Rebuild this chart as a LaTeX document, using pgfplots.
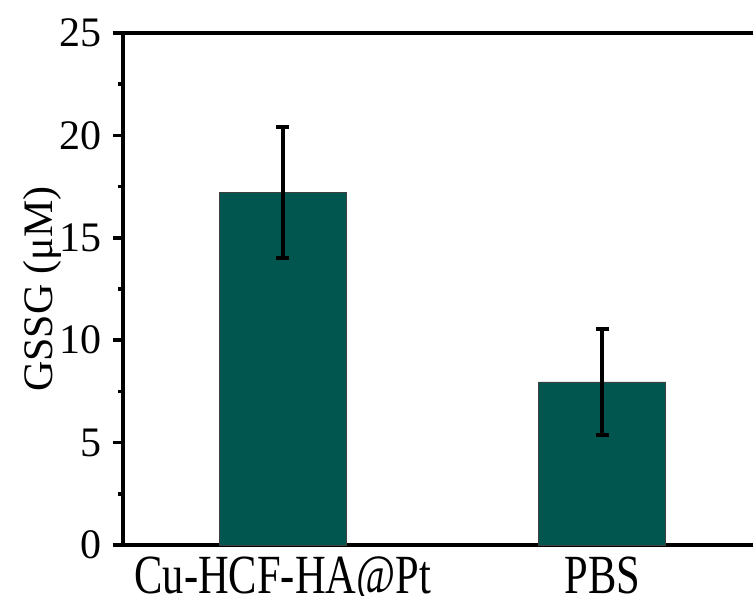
\documentclass[border=0pt]{standalone}
\usepackage{fontspec}
\setmainfont{Liberation Serif}
\usepackage{graphicx}
\usepackage{pgfplots}
\pgfplotsset{compat=1.18}
\definecolor{barteal}{RGB}{2,86,80}
\begin{document}
\begin{tikzpicture}
\begin{axis}[
  at={(0pt,0pt)}, anchor=south west,
  scale only axis, width=639pt, height=512pt,
  xmin=0.5, xmax=2.5, ymin=0, ymax=25,
  xtick={1,2}, xticklabels={\scalebox{1}[1.3]{Cu-HCF-HA@Pt},\scalebox{1}[1.3]{PBS}},
  major x tick style={draw=none},
  ytick={0,5,10,15,20,25}, minor y tick num=1,
  ytick pos=left, xtick pos=bottom,
  tick align=outside,
  axis line style={line width=4pt, black},
  major tick length=10pt, minor tick length=5pt,
  every tick/.append style={black, line width=3.5pt},
  /pgf/number format/assume math mode=true,
  yticklabel style={font=\fontsize{42}{46}\selectfont, inner sep=0pt, xshift=-11pt},
  xticklabel style={font=\fontsize{42.5}{46}\selectfont, inner sep=0pt, yshift=-2pt},
  ylabel={GSSG (μM)},
  ylabel style={font=\fontsize{42}{46}\selectfont, at={(axis description cs:-0.0955,0.5)}, anchor=south, inner sep=0pt},
  clip=false,
]
\addplot[ybar, bar width=127pt, fill=barteal, draw=black!75, line width=0.8pt,
  error bars/.cd, y dir=both, y explicit,
  error bar style={line width=4pt, black},
  error mark options={rotate=90, mark size=6.5pt, line width=4pt, black}]
  coordinates {(1,17.22) +- (0,3.21) (2,7.96) +- (0,2.57)};
\end{axis}
\pgfresetboundingbox
\path (-123pt,-51pt) rectangle (630pt,545pt);
\end{tikzpicture}
\end{document}
